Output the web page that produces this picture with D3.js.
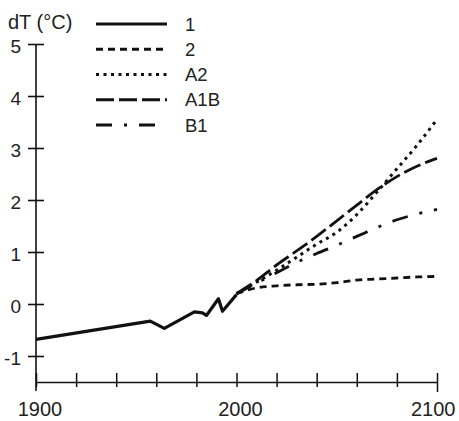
<!DOCTYPE html>
<html>
<head>
<meta charset="utf-8">
<script src="https://cdn.jsdelivr.net/npm/d3@7/dist/d3.min.js"></script>
<style>
  html, body { margin: 0; padding: 0; background: #fff; }
  svg { display: block; }
  text { font-family: "Liberation Sans", Arial, sans-serif; fill: #222; }
</style>
</head>
<body>
<svg id="chart" width="459" height="421"></svg>
<script>
// ---- data ----
const seriesNames = ["1", "2", "A2", "A1B", "B1"];

const obsYears  = [1900, 1957, 1964, 1979, 1983, 1985, 1991, 1993, 2000];
const obsValues = [-0.68, -0.33, -0.47, -0.15, -0.17, -0.22, 0.10, -0.14, 0.18];

const projYears = [2000, 2010, 2020, 2030, 2040, 2050, 2060, 2070, 2080, 2090, 2100];
const commitValues = [0.20, 0.31, 0.35, 0.37, 0.38, 0.41, 0.46, 0.48, 0.50, 0.52, 0.53];
const a2Values     = [0.20, 0.42, 0.65, 0.90, 1.15, 1.38, 1.72, 2.15, 2.60, 3.05, 3.55];
const a1bValues    = [0.20, 0.45, 0.75, 1.02, 1.30, 1.60, 1.90, 2.20, 2.45, 2.65, 2.80];
const b1Values     = [0.20, 0.40, 0.60, 0.80, 0.97, 1.13, 1.30, 1.47, 1.62, 1.73, 1.82];

const yTickValues = [5, 4, 3, 2, 1, 0, -1];
const xTickValues = [1900, 1920, 1940, 1960, 1980, 2000, 2020, 2040, 2060, 2080, 2100];
const xLabelValues = [1900, 2000, 2100];
const yTitle = "dT (°C)";

// ---- styles ----
const dashes = {
  "1": null,
  "2": "7,5",
  "A2": "3,4.5",
  "A1B": "18,5",
  "B1": "16,12,3,12"
};
const widths = { "1": 3.2, "2": 2.8, "A2": 3, "A1B": 2.8, "B1": 2.8 };
const ink = "#111";

const svg = d3.select("#chart");
const x = d3.scaleLinear().domain([1900, 2100]).range([36, 437]);
const y = d3.scaleLinear().domain([-1.5, 5]).range([382, 44]);

// ---- axes ----
const yAxis = d3.axisLeft(y).tickValues(yTickValues).tickSize(8).tickSizeOuter(0).tickFormat(d => String(d));
const gy = svg.append("g").attr("transform", `translate(${x(1900)},0)`).call(yAxis);
gy.select(".domain").remove();
gy.selectAll(".tick line").attr("x1", 8).attr("stroke", ink).attr("stroke-width", 1.6);
gy.selectAll(".tick text")
  .attr("x", -15).attr("dy", "0.45em")
  .style("font-size", "19px")
  .style("font-family", "'Liberation Sans', Arial, sans-serif")
  .attr("fill", "#222");

svg.append("line")
  .attr("x1", x(1900)).attr("x2", x(1900))
  .attr("y1", y(5)).attr("y2", y(-1.5) + 9)
  .attr("stroke", ink).attr("stroke-width", 1.6);

const xAxis = d3.axisBottom(x).tickValues(xTickValues).tickSize(5).tickSizeOuter(0)
  .tickFormat(d => xLabelValues.includes(d) ? String(d) : "");
const gx = svg.append("g").attr("transform", `translate(0,${y(-1.5)})`).call(xAxis);
gx.select(".domain").attr("stroke", ink).attr("stroke-width", 1.3);
gx.selectAll(".tick line").attr("y1", -9).attr("stroke", ink).attr("stroke-width", 1.5);
gx.selectAll(".tick text")
  .attr("y", 20).attr("dy", "0.72em").attr("dx", 3.5)
  .style("font-size", "20px")
  .style("font-family", "'Liberation Sans', Arial, sans-serif")
  .attr("fill", "#222");
gx.selectAll(".tick").filter(d => d === 2100).select("text")
  .attr("text-anchor", "end").attr("dx", 18);
gx.selectAll(".tick").filter(d => d === 2100).select("line").attr("y2", 10);

// y title
svg.append("text")
  .attr("x", 8).attr("y", 29)
  .style("font-size", "20px")
  .text(yTitle);

// ---- lines ----
const line = d3.line().x(d => x(d[0])).y(d => y(d[1]));
const seriesData = {
  "1": obsYears.map((yr, i) => [yr, obsValues[i]]),
  "2": projYears.map((yr, i) => [yr, commitValues[i]]),
  "A2": projYears.map((yr, i) => [yr, a2Values[i]]),
  "A1B": projYears.map((yr, i) => [yr, a1bValues[i]]),
  "B1": projYears.map((yr, i) => [yr, b1Values[i]])
};
const drawOrder = ["2", "B1", "A2", "A1B", "1"];
drawOrder.forEach(name => {
  svg.append("path")
    .datum(seriesData[name])
    .attr("d", line.curve(name === "1" ? d3.curveLinear : d3.curveMonotoneX))
    .attr("fill", "none")
    .attr("stroke", ink)
    .attr("stroke-width", widths[name])
    .attr("stroke-linejoin", "round")
    .attr("stroke-dasharray", dashes[name]);
});

// ---- legend ----
const legY = d3.scaleLinear().domain([0, 4]).range([24, 125]);
const leg = svg.append("g");
seriesNames.forEach((name, i) => {
  const yy = legY(i);
  leg.append("line")
    .attr("x1", 96).attr("x2", 167)
    .attr("y1", yy).attr("y2", yy)
    .attr("stroke", ink)
    .attr("stroke-width", widths[name])
    .attr("stroke-dasharray", dashes[name]);
  leg.append("text")
    .attr("x", 185).attr("y", yy).attr("dy", "0.36em")
    .style("font-size", "18.5px")
    .text(name);
});
</script>
</body>
</html>
